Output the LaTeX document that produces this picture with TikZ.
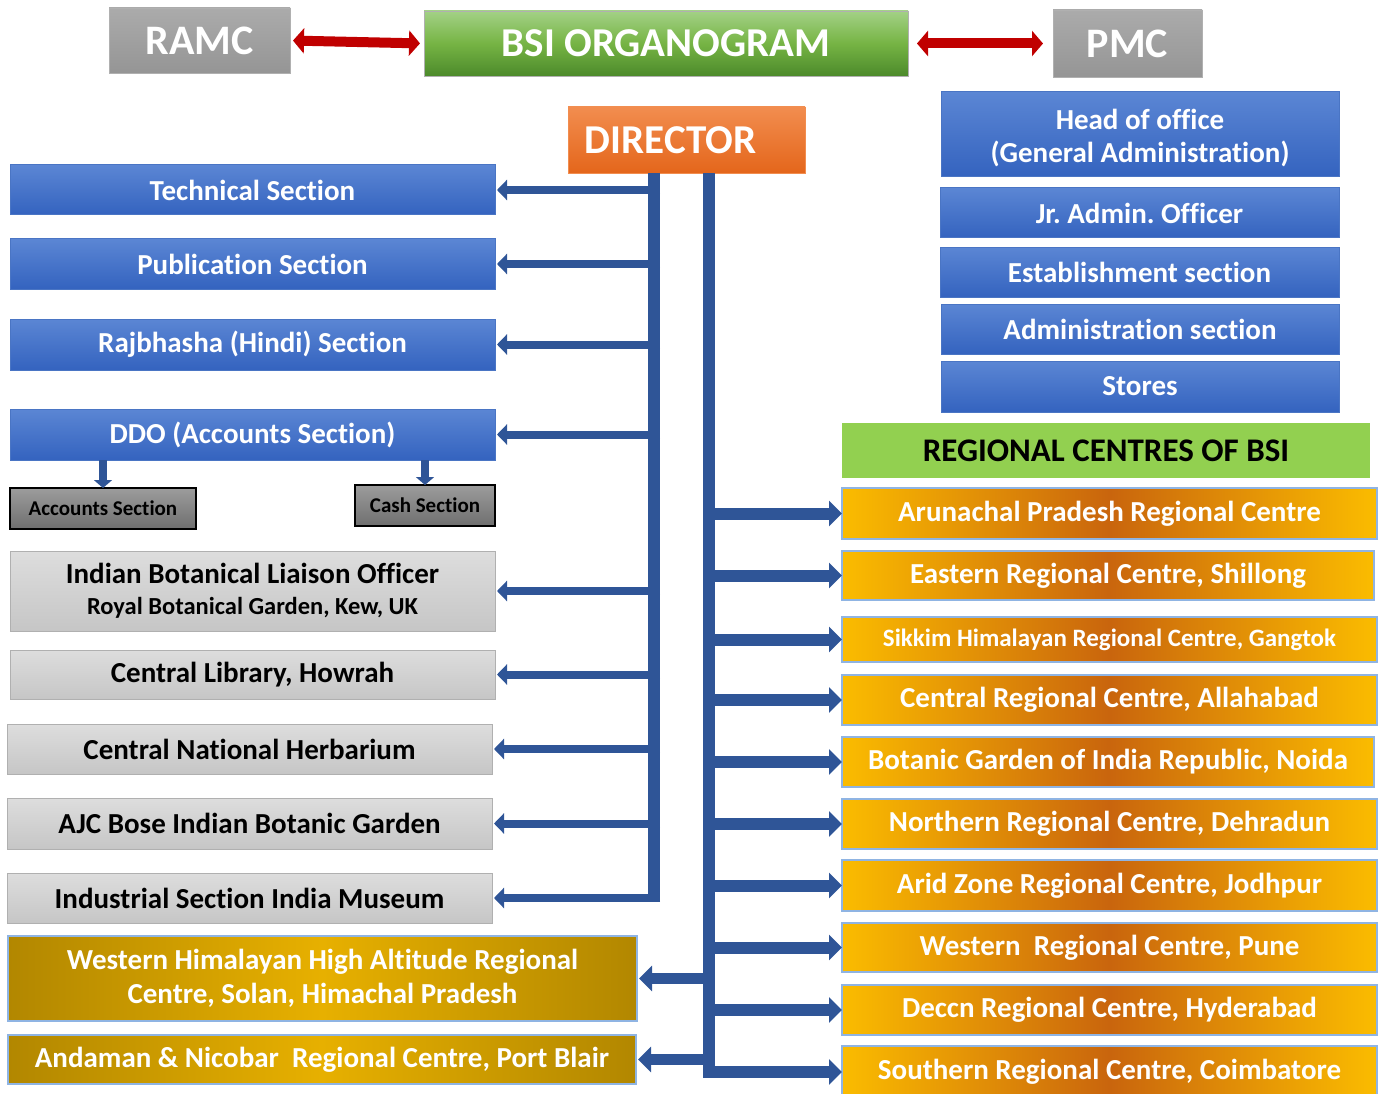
\documentclass[tikz,border=0pt]{standalone}
\usepackage{fontspec}
\setmainfont{Carlito}[Ligatures=NoCommon]
\usetikzlibrary{arrows.meta,calc}
\frenchspacing

% palette
\definecolor{linkblue}{HTML}{2F5597}
\definecolor{linkred}{HTML}{C00000}
\definecolor{blueTop}{HTML}{5B86D4}
\definecolor{blueBot}{HTML}{3463BF}
\definecolor{blueEdge}{HTML}{4A75C4}
\definecolor{greyTop}{HTML}{ABABAB}
\definecolor{greyBot}{HTML}{959595}
\definecolor{lgTop}{HTML}{DDDDDD}
\definecolor{lgBot}{HTML}{C6C6C6}
\definecolor{lgEdge}{HTML}{B0B0B0}
\definecolor{dgTop}{HTML}{9C9C9C}
\definecolor{dgBot}{HTML}{6F6F6F}
\definecolor{grTop}{HTML}{A3D186}
\definecolor{grMid}{HTML}{76B444}
\definecolor{grBot}{HTML}{4C8A2B}
\definecolor{orTop}{HTML}{F28D4F}
\definecolor{orBot}{HTML}{E4661B}
\definecolor{rcGreen}{HTML}{92D050}
\definecolor{amberEdge}{HTML}{FBBC00}
\definecolor{amberMid}{HTML}{C9650D}
\definecolor{goldEdge}{HTML}{B28700}
\definecolor{goldMid}{HTML}{E7B000}
\definecolor{paleEdge}{HTML}{8FB4E3}

\tikzset{
  box/.style={inner sep=0pt, outer sep=0pt, anchor=north west, align=center},
  greytitle/.style={box, draw=lgEdge, line width=0.8pt, top color=greyTop, bottom color=greyBot,
    text=white, font=\bfseries\fontsize{42}{46}\selectfont},
  greentitle/.style={box, draw=lgEdge, line width=0.8pt, top color=grTop, bottom color=grBot, middle color=grMid,
    text=white, font=\bfseries\fontsize{41}{46}\selectfont},
  dirbox/.style={box, draw=orTop, line width=0.8pt, top color=orTop, bottom color=orBot,
    text=white, font=\bfseries\fontsize{41}{45}\selectfont},
  bluebox/.style={box, draw=blueEdge, line width=1pt, top color=blueTop, bottom color=blueBot,
    text=white, font=\bfseries\fontsize{29}{33}\selectfont},
  lightbox/.style={box, draw=lgEdge, line width=1pt, top color=lgTop, bottom color=lgBot,
    text=black, font=\bfseries\fontsize{29}{32}\selectfont},
  darkbox/.style={box, draw=black, line width=1.5pt, top color=dgTop, bottom color=dgBot,
    text=black, font=\bfseries\fontsize{21}{24}\selectfont},
  rchead/.style={box, fill=rcGreen, text=black, font=\bfseries\fontsize{33}{36}\selectfont},
  rcbox/.style={box, draw=paleEdge, line width=1.5pt, left color=amberEdge, right color=amberEdge,
    middle color=amberMid, text=white, font=\bfseries\fontsize{29}{32}\selectfont},
  goldbox/.style={box, draw=paleEdge, line width=1.5pt, left color=goldEdge, right color=goldEdge,
    middle color=goldMid, text=white, font=\bfseries\fontsize{29}{34}\selectfont},
  trunk/.style={draw=linkblue, line width=12pt},
  leftarrow/.style={draw=linkblue, line width=8pt, -{Triangle[length=10pt,width=20pt]}},
  subarrow/.style={draw=linkblue, line width=8pt, -{Triangle[length=8pt,width=18pt]}},
  bigarrow/.style={draw=linkblue, line width=12pt, -{Triangle[length=13pt,width=25pt]}},
  redlink/.style={draw=linkred, line width=10pt, {Triangle[length=11pt,width=25pt]}-{Triangle[length=11pt,width=25pt]}},
}

\begin{document}
\begin{tikzpicture}[x=1pt, y=-1pt]
\useasboundingbox (0,0) rectangle (1384,1094);

% ---------- top row ----------
\node[greytitle, minimum width=181, minimum height=65] (ramc) at (109,8) {RAMC};
\node[greentitle, minimum width=484, minimum height=65] (bsi) at (424,11) {BSI ORGANOGRAM};
\node[greytitle, minimum width=149, minimum height=67] (pmc) at (1053,10) {PMC};
\node[dirbox, minimum width=237, minimum height=66] (dir) at (568,107) {DIRECTOR\hspace*{32pt}};

% ---------- administration column ----------
\node[bluebox, minimum width=398, minimum height=85] (head) at (941,92)
  {\rule{0pt}{6pt}\\[-12pt]Head of office\\(General Administration)};
\node[bluebox, minimum width=399, minimum height=50] (jr) at (940,188) {Jr. Admin. Officer};
\node[bluebox, minimum width=399, minimum height=50] (est) at (940,247) {Establishment section};
\node[bluebox, minimum width=398, minimum height=50] (adm) at (941,304) {Administration section};
\node[bluebox, minimum width=398, minimum height=51] (stores) at (941,361) {Stores};

% ---------- regional centres ----------
\node[rchead, minimum width=528, minimum height=55] (rc) at (842,423) {REGIONAL CENTRES OF BSI};
\node[rcbox, minimum width=535, minimum height=51] (r1) at (842,488) {Arunachal Pradesh Regional Centre};
\node[rcbox, minimum width=532, minimum height=49] (r2) at (842,551) {Eastern Regional Centre, Shillong};
\node[rcbox, minimum width=535, minimum height=45, font=\bfseries\fontsize{25}{28}\selectfont] (r3) at (842,617) {Sikkim Himalayan Regional Centre, Gangtok};
\node[rcbox, minimum width=535, minimum height=50] (r4) at (842,675) {Central Regional Centre, Allahabad};
\node[rcbox, minimum width=532, minimum height=50] (r5) at (842,737) {Botanic Garden of India Republic, Noida};
\node[rcbox, minimum width=535, minimum height=50] (r6) at (842,799) {Northern Regional Centre, Dehradun};
\node[rcbox, minimum width=535, minimum height=51] (r7) at (842,860) {Arid Zone Regional Centre, Jodhpur};
\node[rcbox, minimum width=535, minimum height=49] (r8) at (842,923) {Western\ \ Regional Centre, Pune};
\node[rcbox, minimum width=535, minimum height=50] (r9) at (842,985) {Deccn Regional Centre, Hyderabad};
\node[rcbox, minimum width=535, minimum height=52] (r10) at (842,1046) {Southern Regional Centre, Coimbatore};

% ---------- sections ----------
\node[bluebox, minimum width=485, minimum height=50] (tech) at (10,165) {Technical Section};
\node[bluebox, minimum width=485, minimum height=50] (pub) at (10,239) {Publication Section};
\node[bluebox, minimum width=485, minimum height=51] (raj) at (10,319) {Rajbhasha (Hindi) Section};
\node[bluebox, minimum width=485, minimum height=51] (ddo) at (10,409) {DDO (Accounts Section)};
\node[darkbox, minimum width=186, minimum height=41] (acc) at (10,488) {Accounts Section};
\node[darkbox, minimum width=140, minimum height=41] (cash) at (355,485) {Cash Section};

\node[lightbox, minimum width=485, minimum height=80] (kew) at (10,551)
  {Indian Botanical Liaison Officer\\[-1pt]{\fontsize{24.5}{27}\selectfont Royal Botanical Garden, Kew, UK}};
\node[lightbox, minimum width=485, minimum height=49] (lib) at (10,650) {Central Library, Howrah};
\node[lightbox, minimum width=485, minimum height=50] (herb) at (7,724) {Central National Herbarium};
\node[lightbox, minimum width=485, minimum height=51] (ajc) at (7,798) {AJC Bose Indian Botanic Garden};
\node[lightbox, minimum width=485, minimum height=50] (ind) at (7,873) {Industrial Section India Museum};

\node[goldbox, minimum width=629, minimum height=85] (wh) at (8,936)
  {Western Himalayan High Altitude Regional\\Centre, Solan, Himachal Pradesh};
\node[goldbox, minimum width=628, minimum height=49] (an) at (8,1035) {Andaman \& Nicobar\ \ Regional Centre, Port Blair};

% ---------- connectors ----------
\draw[redlink, shorten <=3pt, shorten >=4pt] (ramc.east) -- (bsi.west);
\draw[redlink, shorten <=9pt, shorten >=10pt] (bsi.east |- pmc.west) -- (pmc.west);

\coordinate (ltop) at ($(dir.south west)+(86,0)$);
\coordinate (rtop) at ($(dir.south west)+(141,0)$);

% left trunk and its branches
\draw[trunk] (ltop) -- ($(ltop |- ind.east)+(0,4)$);
\foreach \n in {tech,pub,raj,ddo,kew,lib,herb,ajc,ind}
  \draw[leftarrow] ($(ltop |- \n.east)+(6,0)$) -- ($(\n.east)+(2,0)$);

% accounts sub-sections
\draw[subarrow] (acc.north |- ddo.south) -- (acc.north);
\draw[subarrow] (cash.north |- ddo.south) -- (cash.north);

% right trunk and its branches
\draw[trunk] (rtop) -- ($(rtop |- r10.west)+(0,6)$);
\foreach \n in {r1,r2,r3,r4,r5,r6,r7,r8,r9,r10}
  \draw[bigarrow] (rtop |- \n.west) -- (\n.west);
\foreach \n in {wh,an}
  \draw[bigarrow, line width=11pt] (rtop |- \n.east) -- ($(\n.east)+(2,0)$);

\end{tikzpicture}
\end{document}
